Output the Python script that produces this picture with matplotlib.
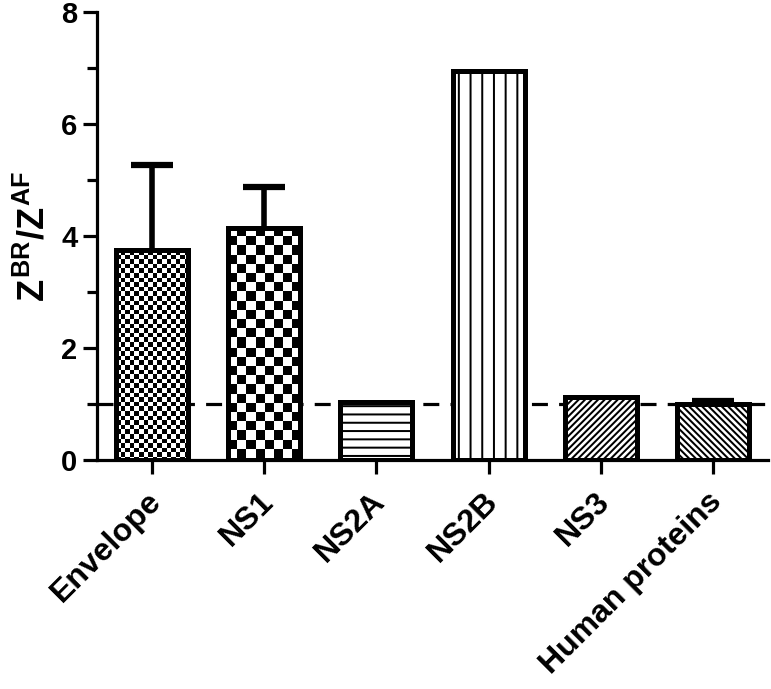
import numpy as np
import matplotlib
matplotlib.use("Agg")
import matplotlib.pyplot as plt
import matplotlib.transforms as mtransforms

# values
proteins = ["Envelope", "NS1", "NS2A", "NS2B", "NS3", "Human proteins"]
ratio = [3.75, 4.15, 1.03, 6.95, 1.12, 1.0]
err_up = [1.52, 0.73, 0.0, 0.0, 0.0, 0.06]
patterns = [("checker", 4.6), ("checker", 9.2), ("hline", 8.3),
            ("vline", 11.7), ("diag", 4.6), ("adiag", 4.6)]

plt.rcParams["font.family"] = ["Liberation Sans", "DejaVu Sans"]
plt.rcParams["font.weight"] = "bold"
plt.rcParams["mathtext.fontset"] = "custom"
plt.rcParams["mathtext.rm"] = "Liberation Sans:bold"
plt.rcParams["mathtext.it"] = "Liberation Sans:bold"
plt.rcParams["mathtext.bf"] = "Liberation Sans:bold"

W, H, DPI = 771, 689, 100
fig = plt.figure(figsize=(W / DPI, H / DPI), dpi=DPI)
ax = fig.add_axes([97 / W, (H - 460) / H, 671 / W, 448 / H])

x = np.arange(len(proteins))
ax.set_xlim(-0.49, 5.49)
ax.set_ylim(0, 8)

ax.axhline(1, color="black", lw=2.3, ls=(0, (5, 3.5)), zorder=0.5)

bw = 0.64
bars = ax.bar(x, ratio, width=bw, color="white", edgecolor="none", zorder=1)


def texture(kind, size, w, h):
    jj, ii = np.meshgrid(np.arange(w) + 0.5, np.arange(h) + 0.5)
    if kind == "checker":
        return ((np.floor(ii / size) + np.floor(jj / size)) % 2).astype(float)
    if kind == "hline":
        u = ii
    elif kind == "vline":
        u = jj
    elif kind == "diag":
        u = (ii + jj) / np.sqrt(2)
    else:
        u = (jj - ii) / np.sqrt(2)
    d = np.abs((u % size) - size / 2)
    return np.clip(1.0 + 0.5 - d, 0, 1)


for b, (kind, size) in zip(bars, patterns):
    x0, y0 = b.get_x(), b.get_y()
    x1, y1 = x0 + b.get_width(), y0 + b.get_height()
    (px0, py0), (px1, py1) = ax.transData.transform([(x0, y0), (x1, y1)])
    w = max(int(round(px1 - px0)), 1)
    h = max(int(round(py1 - py0)), 1)
    img = texture(kind, size, w, h)
    im = ax.imshow(img, cmap="gray_r", vmin=0, vmax=1, extent=(x0, x1, y0, y1),
                   aspect="auto", interpolation="nearest", zorder=1.5)
    im.set_clip_path(b)

ax.bar(x, ratio, width=bw, fill=False, edgecolor="black", linewidth=3.6, zorder=3)

# upper error bars only
has_err = [i for i, e in enumerate(err_up) if e > 0]
eb = ax.errorbar(x[has_err], np.array(ratio)[has_err],
                 yerr=[np.zeros(len(has_err)), np.array(err_up)[has_err]],
                 fmt="none", ecolor="black", elinewidth=4, capsize=15, capthick=4.5,
                 zorder=2.5)
caps = eb[1]
lowest = min(caps, key=lambda c: np.mean(c.get_ydata()))
lowest.set_visible(False)

ax.set_aspect("auto")
ax.set_xlim(-0.49, 5.49)
ax.set_ylim(0, 8)

for s in ["top", "right"]:
    ax.spines[s].set_visible(False)
for s in ["left", "bottom"]:
    ax.spines[s].set_linewidth(2.3)

ax.set_yticks([0, 2, 4, 6, 8])
ax.set_yticks([1, 3, 5, 7], minor=True)
ax.tick_params(axis="y", which="major", length=10, width=2.3, labelsize=21, pad=4)
ax.tick_params(axis="y", which="minor", length=7, width=2.3)
ax.set_xticks(x)
ax.set_xticklabels(proteins, rotation=45, ha="right", rotation_mode="anchor",
                   fontsize=23, fontweight="bold")
ax.tick_params(axis="x", length=10, width=2.3, pad=9)
shift = mtransforms.ScaledTranslation(-6 / DPI, 0, fig.dpi_scale_trans)
for lab in ax.get_xticklabels():
    lab.set_transform(lab.get_transform() + shift)
for lab in ax.get_yticklabels():
    lab.set_fontweight("bold")

ax.set_ylabel(r"$Z^{BR}/Z^{AF}$", fontsize=26, labelpad=6)

fig.savefig("out.png", dpi=DPI)
